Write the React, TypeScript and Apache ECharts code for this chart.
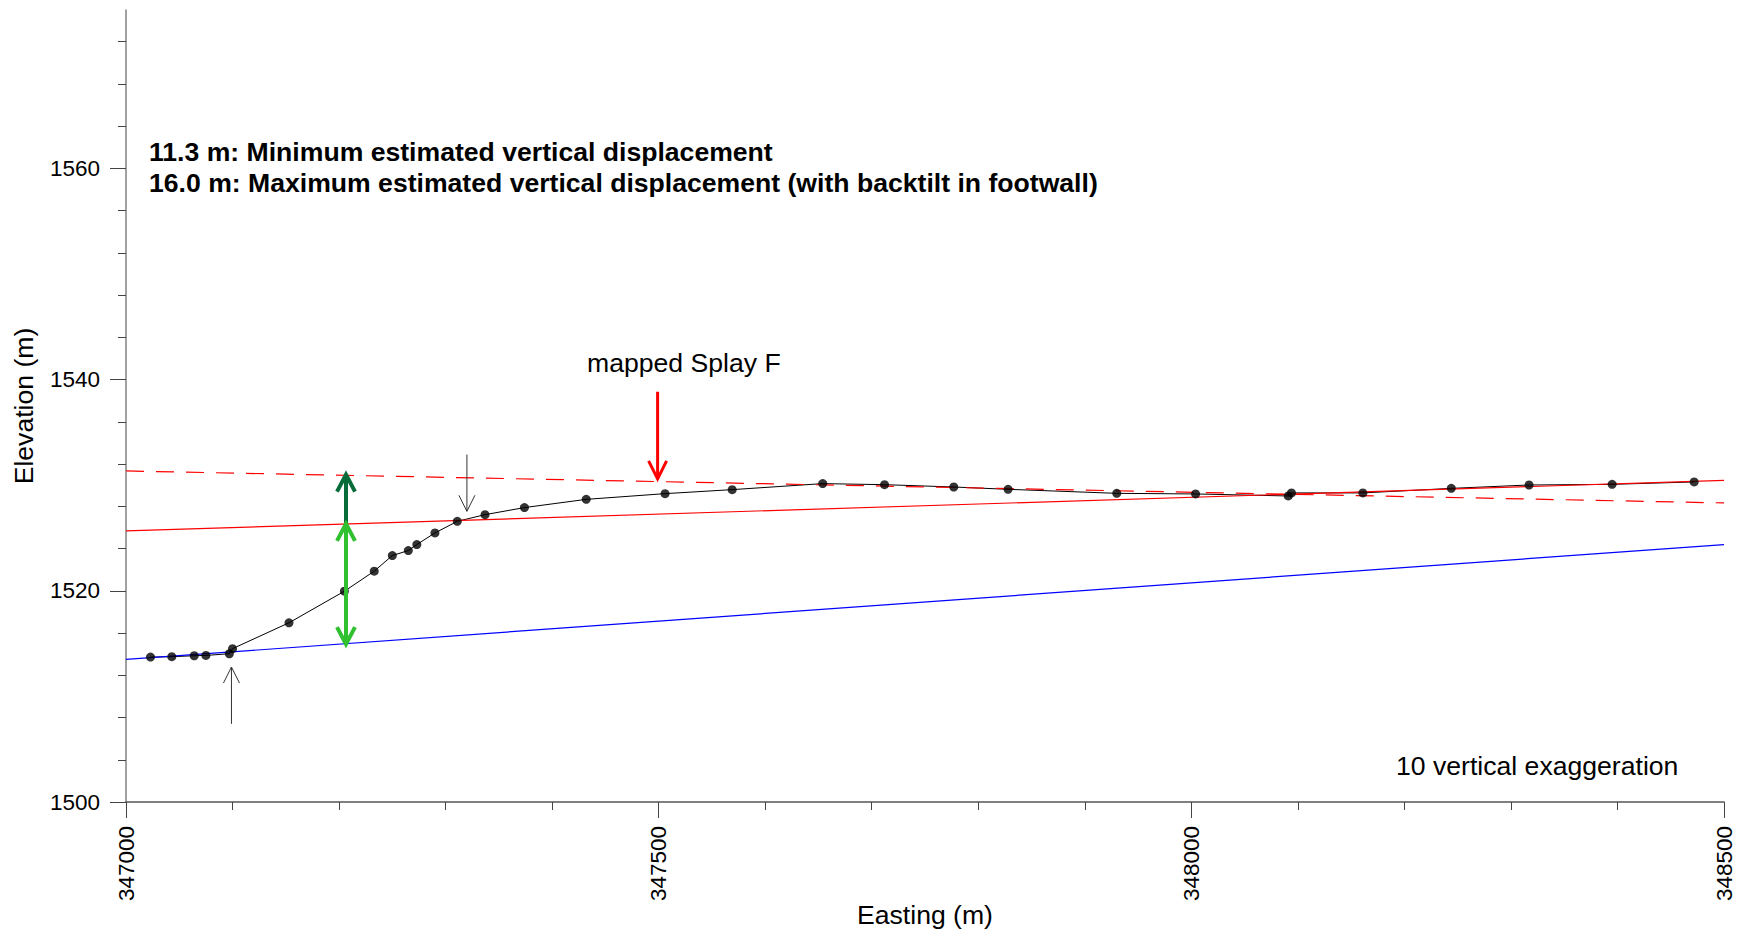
import React, { useEffect, useRef } from "react";
import * as echarts from "echarts";

// ---- data ----
const profileEasting = [
  347023, 347043, 347064, 347075, 347097, 347100, 347153, 347205, 347233, 347250,
  347265, 347273, 347290, 347311, 347337, 347374, 347432, 347506, 347569, 347654,
  347712, 347777, 347828, 347930, 348004, 348091, 348094, 348161, 348244, 348317,
  348395, 348472,
];
const profileElevation = [
  1513.72, 1513.76, 1513.85, 1513.88, 1514.04, 1514.52, 1516.97, 1519.96, 1521.86, 1523.34,
  1523.81, 1524.38, 1525.48, 1526.58, 1527.21, 1527.88, 1528.66, 1529.2, 1529.58, 1530.15,
  1530.05, 1529.83, 1529.61, 1529.23, 1529.17, 1528.98, 1529.27, 1529.27, 1529.7, 1530.02,
  1530.08, 1530.31,
];

const refLineEasting = [347000, 348500];
const hangingwallSurface = [1525.67, 1530.45]; // red solid
const backtiltSurface = [1531.35, 1528.32]; // red dashed
const footwallSurface = [1513.5, 1524.38]; // blue

// arrows: easting, start elevation, end elevation, head at start, head at end
const arrowEasting = [347206.5, 347206.5, 347099, 347320, 347499];
const arrowStart = [1526.34, 1514.95, 1507.4, 1532.9, 1538.85];
const arrowEnd = [1531.0, 1526.34, 1512.78, 1527.53, 1530.6];
const arrowHeadStart = [0, 1, 0, 0, 0];
const arrowHeadEnd = [1, 1, 1, 1, 1];

const xTicksMajor = [347000, 347500, 348000, 348500];
const yTicksMajor = [1500, 1520, 1540, 1560];
const yTicksMinor = [
  1504, 1508, 1512, 1516, 1524, 1528, 1532, 1536, 1544, 1548, 1552, 1556, 1564, 1568, 1572,
];

const annotationLines = [
  "11.3 m: Minimum estimated vertical displacement",
  "16.0 m: Maximum estimated vertical displacement (with backtilt in footwall)",
];
const splayLabel = "mapped Splay F";
const exaggerationLabel = "10 vertical exaggeration";

// ---- styles ----
const FONT = '"Liberation Sans", Arial, Helvetica, sans-serif';
const TEXT_SIZE = 26.6;
const TICK_SIZE = 22.5;
const arrowStyles = [
  { color: "#076b3a", width: 4, headW: 18, headH: 17 },
  { color: "#30c030", width: 4, headW: 18, headH: 17 },
  { color: "#333333", width: 1, headW: 16, headH: 16 },
  { color: "#333333", width: 1, headW: 16, headH: 16 },
  { color: "#ff0000", width: 3, headW: 18, headH: 18 },
];

export default function App() {
  const ref = useRef<HTMLDivElement>(null);

  useEffect(() => {
    if (!ref.current) return;
    const chart = echarts.init(ref.current, undefined, { renderer: "svg" });

    const profile = profileEasting.map((x, i) => [x, profileElevation[i]]);
    const line = (vals: number[]) => refLineEasting.map((x, i) => [x, vals[i]]);
    const arrowData = arrowEasting.map((x, i) => [
      x,
      arrowStart[i],
      arrowEnd[i],
      arrowHeadStart[i],
      arrowHeadEnd[i],
    ]);

    const chevron = (tip: number[], from: number[], w: number, h: number) => {
      const dx = tip[0] - from[0];
      const dy = tip[1] - from[1];
      const len = Math.sqrt(dx * dx + dy * dy) || 1;
      const ux = dx / len;
      const uy = dy / len;
      const px = -uy;
      const py = ux;
      return [
        [tip[0] - ux * h + px * (w / 2), tip[1] - uy * h + py * (w / 2)],
        [tip[0], tip[1]],
        [tip[0] - ux * h - px * (w / 2), tip[1] - uy * h - py * (w / 2)],
      ];
    };

    const option: any = {
      animation: false,
      backgroundColor: "#ffffff",
      grid: {
        left: 126,
        right: 19,
        top: 10,
        bottom: 128,
        containLabel: false,
        outerBoundsMode: "none",
      },
      xAxis: {
        type: "value",
        min: 347000,
        max: 348500,
        interval: 500,
        name: "Easting (m)",
        nameLocation: "middle",
        nameGap: 99,
        nameMoveOverlap: false,
        nameTextStyle: { fontSize: TEXT_SIZE, fontFamily: FONT, color: "#000" },
        axisLine: { show: true, onZero: false, lineStyle: { color: "#555", width: 1.5 } },
        axisTick: { show: true, length: 16, lineStyle: { color: "#444", width: 1 } },
        minorTick: { show: true, splitNumber: 5, length: 8, lineStyle: { color: "#444", width: 1 } },
        axisLabel: {
          rotate: 90,
          fontSize: TICK_SIZE,
          fontFamily: FONT,
          color: "#000",
          margin: 24,
          customValues: xTicksMajor,
          formatter: (v: number) => String(v),
        },
        splitLine: { show: false },
        minorSplitLine: { show: false },
      },
      yAxis: [
        {
          type: "value",
          min: 1500,
          max: 1575,
          position: "left",
          name: "Elevation (m)",
          nameLocation: "middle",
          nameGap: 89,
          nameTextStyle: { fontSize: TEXT_SIZE, fontFamily: FONT, color: "#000" },
          axisLine: { show: true, onZero: false, lineStyle: { color: "#808080", width: 1.5 } },
          axisTick: { show: true, length: 16, customValues: yTicksMajor, lineStyle: { color: "#444", width: 1 } },
          axisLabel: {
            fontSize: TICK_SIZE,
            fontFamily: FONT,
            color: "#000",
            margin: 26,
            customValues: yTicksMajor,
            formatter: (v: number) => String(v),
          },
          splitLine: { show: false },
        },
        {
          type: "value",
          min: 1500,
          max: 1575,
          position: "left",
          axisLine: { show: false, onZero: false },
          axisTick: { show: true, length: 8, customValues: yTicksMinor, lineStyle: { color: "#444", width: 1 } },
          axisLabel: { show: false },
          splitLine: { show: false },
        },
      ],
      series: [
        {
          type: "line",
          name: "profile",
          data: profile,
          showSymbol: false,
          symbol: "none",
          lineStyle: { color: "#000", width: 1 },
          z: 2,
        },
        {
          type: "line",
          name: "hangingwall",
          data: line(hangingwallSurface),
          symbol: "none",
          lineStyle: { color: "#ff0000", width: 1.2 },
          z: 3,
        },
        {
          type: "line",
          name: "backtilt",
          data: line(backtiltSurface),
          symbol: "none",
          lineStyle: { color: "#ff0000", width: 1.2, type: [18, 12] },
          z: 3,
        },
        {
          type: "line",
          name: "footwall",
          data: line(footwallSurface),
          symbol: "none",
          lineStyle: { color: "#0000ff", width: 1.2 },
          z: 3,
        },
        {
          type: "scatter",
          name: "points",
          data: profile,
          symbol: "circle",
          symbolSize: 9,
          itemStyle: { color: "#000" },
          z: 5,
        },
        {
          type: "custom",
          name: "arrows",
          data: arrowData,
          clip: false,
          z: 6,
          renderItem: (params: any, api: any) => {
            const st = arrowStyles[params.dataIndex];
            const p1 = api.coord([api.value(0), api.value(1)]);
            const p2 = api.coord([api.value(0), api.value(2)]);
            const children: any[] = [
              {
                type: "line",
                shape: { x1: p1[0], y1: p1[1], x2: p2[0], y2: p2[1] },
                style: { stroke: st.color, lineWidth: st.width },
              },
            ];
            if (api.value(4)) {
              children.push({
                type: "polyline",
                shape: { points: chevron(p2, p1, st.headW, st.headH) },
                style: { stroke: st.color, lineWidth: st.width, fill: null },
              });
            }
            if (api.value(3)) {
              children.push({
                type: "polyline",
                shape: { points: chevron(p1, p2, st.headW, st.headH) },
                style: { stroke: st.color, lineWidth: st.width, fill: null },
              });
            }
            return { type: "group", children };
          },
        },
      ],
      graphic: [
        {
          type: "text",
          x: 149,
          y: 151.5,
          style: {
            text: annotationLines[0],
            font: `bold ${TEXT_SIZE}px ${FONT}`,
            fill: "#000",
            textAlign: "left",
            textVerticalAlign: "middle",
          },
        },
        {
          type: "text",
          x: 149,
          y: 182.5,
          style: {
            text: annotationLines[1],
            font: `bold ${TEXT_SIZE}px ${FONT}`,
            fill: "#000",
            textAlign: "left",
            textVerticalAlign: "middle",
          },
        },
        {
          type: "text",
          x: 587,
          y: 363,
          style: {
            text: splayLabel,
            font: `${TEXT_SIZE}px ${FONT}`,
            fill: "#000",
            textAlign: "left",
            textVerticalAlign: "middle",
          },
        },
        {
          type: "text",
          x: 1396,
          y: 766,
          style: {
            text: exaggerationLabel,
            font: `${TEXT_SIZE}px ${FONT}`,
            fill: "#000",
            textAlign: "left",
            textVerticalAlign: "middle",
          },
        },
      ],
    };

    chart.setOption(option);
    return () => chart.dispose();
  }, []);

  return (
    <div
      ref={ref}
      style={{ position: "absolute", left: 0, top: 0, width: 1743, height: 930, background: "#fff" }}
    />
  );
}
